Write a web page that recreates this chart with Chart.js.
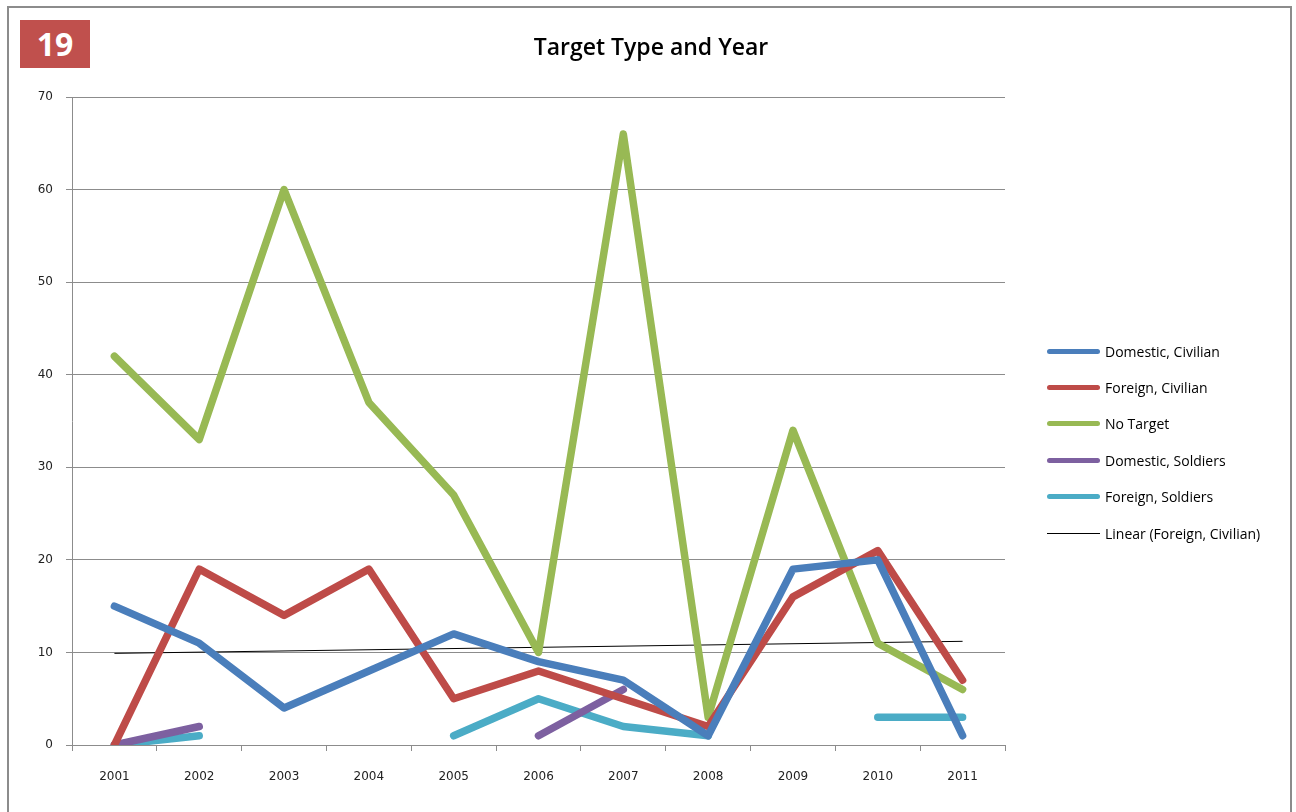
<!DOCTYPE html>
<html>
<head>
<meta charset="utf-8">
<script src="https://cdn.jsdelivr.net/npm/chart.js@4"></script>
<style>
  body { margin: 0; background: #fff; width: 1296px; height: 812px; overflow: hidden; font-family: "Open Sans", sans-serif; }
  #frame { position: absolute; left: 7px; top: 6px; width: 1285px; height: 820px; border: 2px solid #8c8c8c; box-sizing: border-box; }
  #badge { position: absolute; left: 20px; top: 20px; width: 70px; height: 48px; background: #c0504d; color: #fff; font: bold 32px "Open Sans", sans-serif; line-height: 48px; text-align: center; }
  #title { position: absolute; left: 0; width: 1302px; top: 30px; text-align: center; font: 600 23px "Open Sans", sans-serif; color: #000; }
  #chartBox { position: absolute; left: 0; top: 0; width: 1296px; height: 812px; }
  #legend { position: absolute; left: 1047px; top: 333px; }
  .item { height: 36.4px; display: flex; align-items: center; font: 14px "Open Sans", sans-serif; color: #000; }
  .swatch { width: 53px; height: 5px; border-radius: 3px; margin-right: 5px; }
</style>
</head>
<body>
<div id="frame"></div>
<div id="chartBox"><canvas id="chart" width="1296" height="812"></canvas></div>
<div id="badge">19</div>
<div id="title">Target Type and Year</div>
<div id="legend"></div>
<script>
const years = ['2001', '2002', '2003', '2004', '2005', '2006', '2007', '2008', '2009', '2010', '2011'];
const domesticCivilian = [15, 11, 4, 8, 12, 9, 7, 1, 19, 20, 1];
const foreignCivilian = [0, 19, 14, 19, 5, 8, 5, 2, 16, 21, 7];
const noTarget = [42, 33, 60, 37, 27, 10, 66, 3, 34, 11, 6];
const domesticSoldiers = [0, 2, null, null, null, 1, 6, null, null, null, null];
const foreignSoldiers = [0, 1, null, null, 1, 5, 2, 1, null, 3, 3];
// trend line end points
const trendForeignCivilian = [9.9, null, null, null, null, null, null, null, null, null, 11.2];
const yTicks = [0, 10, 20, 30, 40, 50, 60, 70];

const series = [
    { label: 'Domestic, Civilian', data: domesticCivilian, color: '#4a7ebb' },
    { label: 'Foreign, Civilian', data: foreignCivilian, color: '#be4b48' },
    { label: 'No Target', data: noTarget, color: '#98b954' },
    { label: 'Domestic, Soldiers', data: domesticSoldiers, color: '#7d60a0' },
    { label: 'Foreign, Soldiers', data: foreignSoldiers, color: '#4bacc6' }
];

const datasets = series.map(s => ({
    label: s.label,
    data: s.data,
    borderColor: s.color,
    backgroundColor: s.color,
    borderWidth: 7.5,
    borderCapStyle: 'round',
    borderJoinStyle: 'round',
    pointRadius: 0,
    tension: 0,
    spanGaps: false
}));
datasets.push({
    label: 'Linear (Foreign, Civilian)',
    data: trendForeignCivilian,
    borderColor: '#000',
    borderWidth: 1,
    pointRadius: 0,
    spanGaps: true
});

const tickFont = { family: 'DejaVu Sans', size: 12 };

const ctx = document.getElementById('chart').getContext('2d');
new Chart(ctx, {
    type: 'line',
    data: { labels: years, datasets: datasets },
    options: {
        responsive: false,
        animation: false,
        layout: { padding: { left: 0, right: 291, top: 97, bottom: 0 } },
        plugins: { legend: { display: false }, tooltip: { enabled: false } },
        scales: {
            x: {
                offset: true,
                grid: { display: true, drawOnChartArea: false, offset: true, tickLength: 6, color: '#8c8c8c' },
                border: { color: '#8c8c8c' },
                ticks: { color: '#222', padding: 19, font: tickFont },
                afterFit: scale => { scale.height = 67; }
            },
            y: {
                min: 0,
                max: 70,
                afterBuildTicks: scale => { scale.ticks = yTicks.map(v => ({ value: v })); },
                grid: { color: '#8c8c8c', tickLength: 6 },
                border: { color: '#8c8c8c' },
                ticks: { color: '#222', padding: 13, font: tickFont },
                afterFit: scale => { scale.width = 72; }
            }
        }
    }
});

// legend built from the same series
const legend = document.getElementById('legend');
datasets.forEach(d => {
    const row = document.createElement('div');
    row.className = 'item';
    const sw = document.createElement('span');
    sw.className = 'swatch';
    sw.style.background = d.borderColor;
    if (d.borderWidth === 1) { sw.style.height = '1px'; sw.style.borderRadius = '0'; }
    row.appendChild(sw);
    row.appendChild(document.createTextNode(d.label));
    legend.appendChild(row);
});
</script>
</body>
</html>
